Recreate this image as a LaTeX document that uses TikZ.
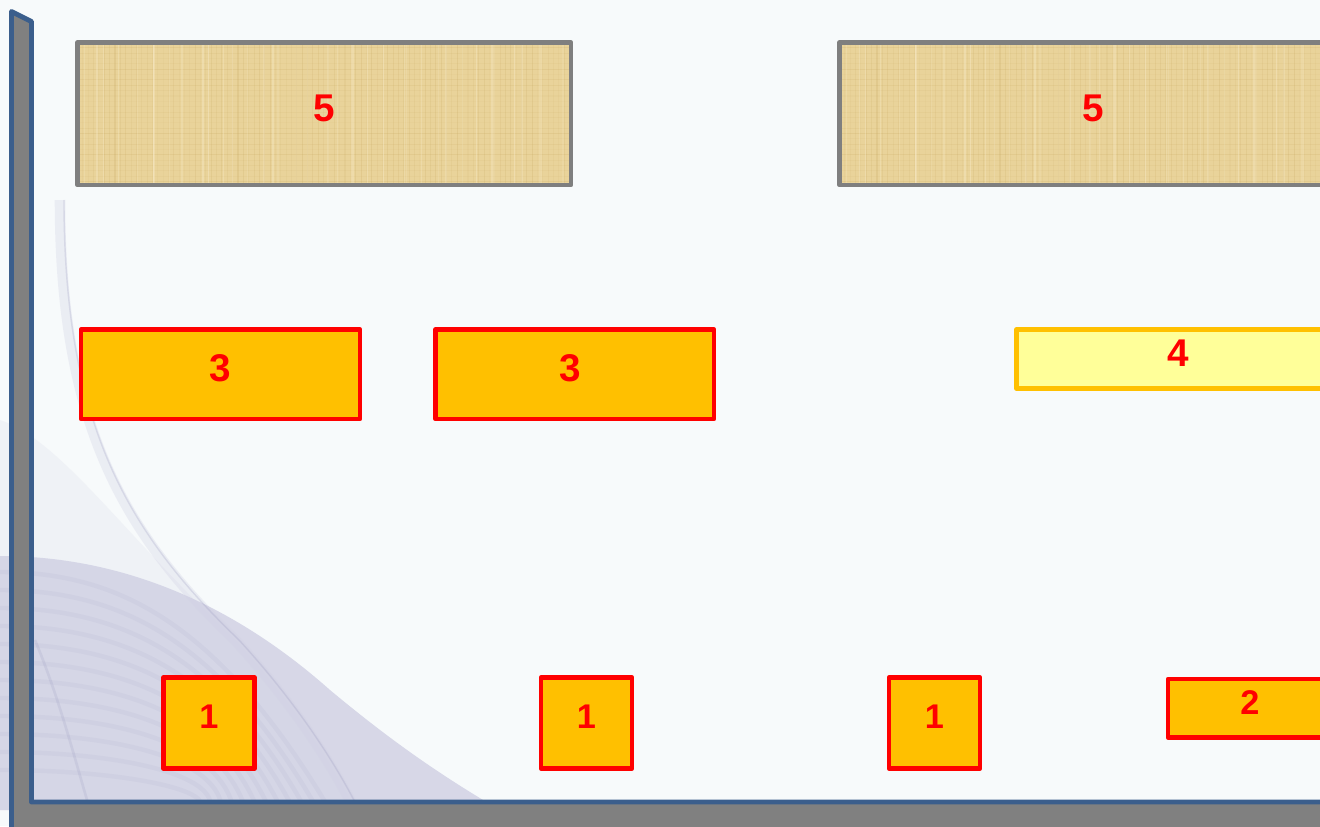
\documentclass[tikz,border=0pt]{standalone}
\usepackage{fontspec}
\setmainfont{Liberation Sans}
\definecolor{bgcol}{HTML}{F7FAFB}
\definecolor{wallgray}{HTML}{808080}
\definecolor{wallblue}{HTML}{3B5E8C}
\definecolor{boxorange}{HTML}{FFC000}
\definecolor{boxred}{HTML}{FF0000}
\definecolor{lightyellow}{HTML}{FFFF99}
\definecolor{papyrus}{HTML}{E9D39A}
\definecolor{papdark}{HTML}{C4A35A}
\definecolor{paplight}{HTML}{FAEFD0}
\definecolor{pgray}{HTML}{7F7F7F}
\definecolor{lav}{HTML}{CFCFE3}
\definecolor{lavdark}{HTML}{9C9CC0}
\begin{document}
\begin{tikzpicture}[x=0.02cm,y=-0.02cm,
  box/.style={draw, line width=2.7pt, line join=round, inner sep=0pt,
    text depth=0.24cm, text=boxred,
    font=\bfseries\fontsize{22}{24}\selectfont},
  smallbox/.style={box, font=\bfseries\fontsize{19.5}{22}\selectfont},
  orangebox/.style={draw=boxred, fill=boxorange},
  yellowbox/.style={box, draw=boxorange, fill=lightyellow},
  papbox/.style={box, draw=pgray, fill=papyrus,
    path picture={
      \pgfmathsetseed{7}
      \foreach \i in {0,...,95}{
        \pgfmathsetmacro\op{0.04+0.16*rnd}
        \draw[papdark, opacity=\op, line width=0.6pt]
          ([xshift=\i*0.107cm]path picture bounding box.north west) --
          ([xshift=\i*0.107cm]path picture bounding box.south west);
      }
      \foreach \j in {0,...,27}{
        \pgfmathsetmacro\op{0.04+0.16*rnd}
        \draw[papdark, opacity=\op, line width=0.6pt]
          ([yshift=-\j*0.107cm]path picture bounding box.north west) --
          ([yshift=-\j*0.107cm]path picture bounding box.north east);
      }
      \foreach \k in {0,...,40}{
        \pgfmathsetmacro\op{0.15+0.25*rnd}
        \pgfmathsetmacro\px{0.3*rnd}
        \draw[paplight, opacity=\op, line width=0.9pt]
          ([xshift=\k*0.25cm+\px cm]path picture bounding box.north west) --
          ([xshift=\k*0.25cm+\px cm]path picture bounding box.south west);
      }
    }},
]
\useasboundingbox (0,0) rectangle (1320,826);
\begin{scope}
\clip (0,0) rectangle (1320,826);
\fill[bgcol] (0,0) rectangle (1320,826);
% background swirl
\fill[lav, opacity=0.18] (0,420) .. controls (60,440) and (120,530) .. (235,640)
   .. controls (290,700) and (330,760) .. (355,810) -- (0,810) -- cycle;
\fill[lav, opacity=0.8] (0,556) .. controls (130,556) and (240,610) .. (330,690)
   .. controls (390,740) and (440,775) .. (500,810) -- (0,810) -- cycle;
\foreach \i in {0,...,11}{
  \draw[lavdark, opacity=0.1, line width=2.5pt]
    (0,572+18*\i) .. controls (120,572+18*\i) and (220,625+15*\i) .. (330-12*\i,810);
}
\draw[lav, line width=6pt, opacity=0.3] (60,200) .. controls (60,420) and (120,530) .. (235,640)
   .. controls (290,700) and (330,760) .. (355,810);
\draw[lavdark, line width=0.8pt, opacity=0.25] (64,200) .. controls (64,420) and (124,530) .. (239,640)
   .. controls (294,700) and (334,760) .. (359,810);
\draw[lavdark, line width=1.5pt, opacity=0.2] (35,640) .. controls (60,700) and (75,760) .. (90,810);
% wall and floor
\draw[line width=2.8pt, draw=wallblue, fill=wallgray, line join=round]
  (11.5,11.5) -- (31.5,21.5) -- (31.5,802) -- (1340,802) -- (1340,850) -- (11.5,850) -- cycle;
% boxes
\node[papbox, minimum width=9.87cm, minimum height=2.85cm] (p1) at (324.25,113.75) {5};
\node[papbox, minimum width=10.15cm, minimum height=2.85cm] (p2) at (1093.25,113.75) {5};
\node[box, orangebox, minimum width=5.58cm, minimum height=1.79cm] (t1) at (220.5,374.25) {3};
\node[box, orangebox, minimum width=5.57cm, minimum height=1.79cm] (t2) at (574.75,374.25) {\hspace*{-0.18cm}3};
\node[yellowbox, minimum width=6.47cm, minimum height=1.18cm] (f) at (1178.25,359) {4};
\node[smallbox, orangebox, minimum width=1.82cm, minimum height=1.82cm] (a1) at (209,723) {1};
\node[smallbox, orangebox, minimum width=1.82cm, minimum height=1.82cm] (a2) at (586.5,723) {1};
\node[smallbox, orangebox, minimum width=1.82cm, minimum height=1.82cm] (a3) at (934.5,723) {1};
\node[smallbox, orangebox, minimum width=3.28cm, minimum height=1.17cm] (b) at (1250,708.25) {2};
\end{scope}
\end{tikzpicture}
\end{document}
